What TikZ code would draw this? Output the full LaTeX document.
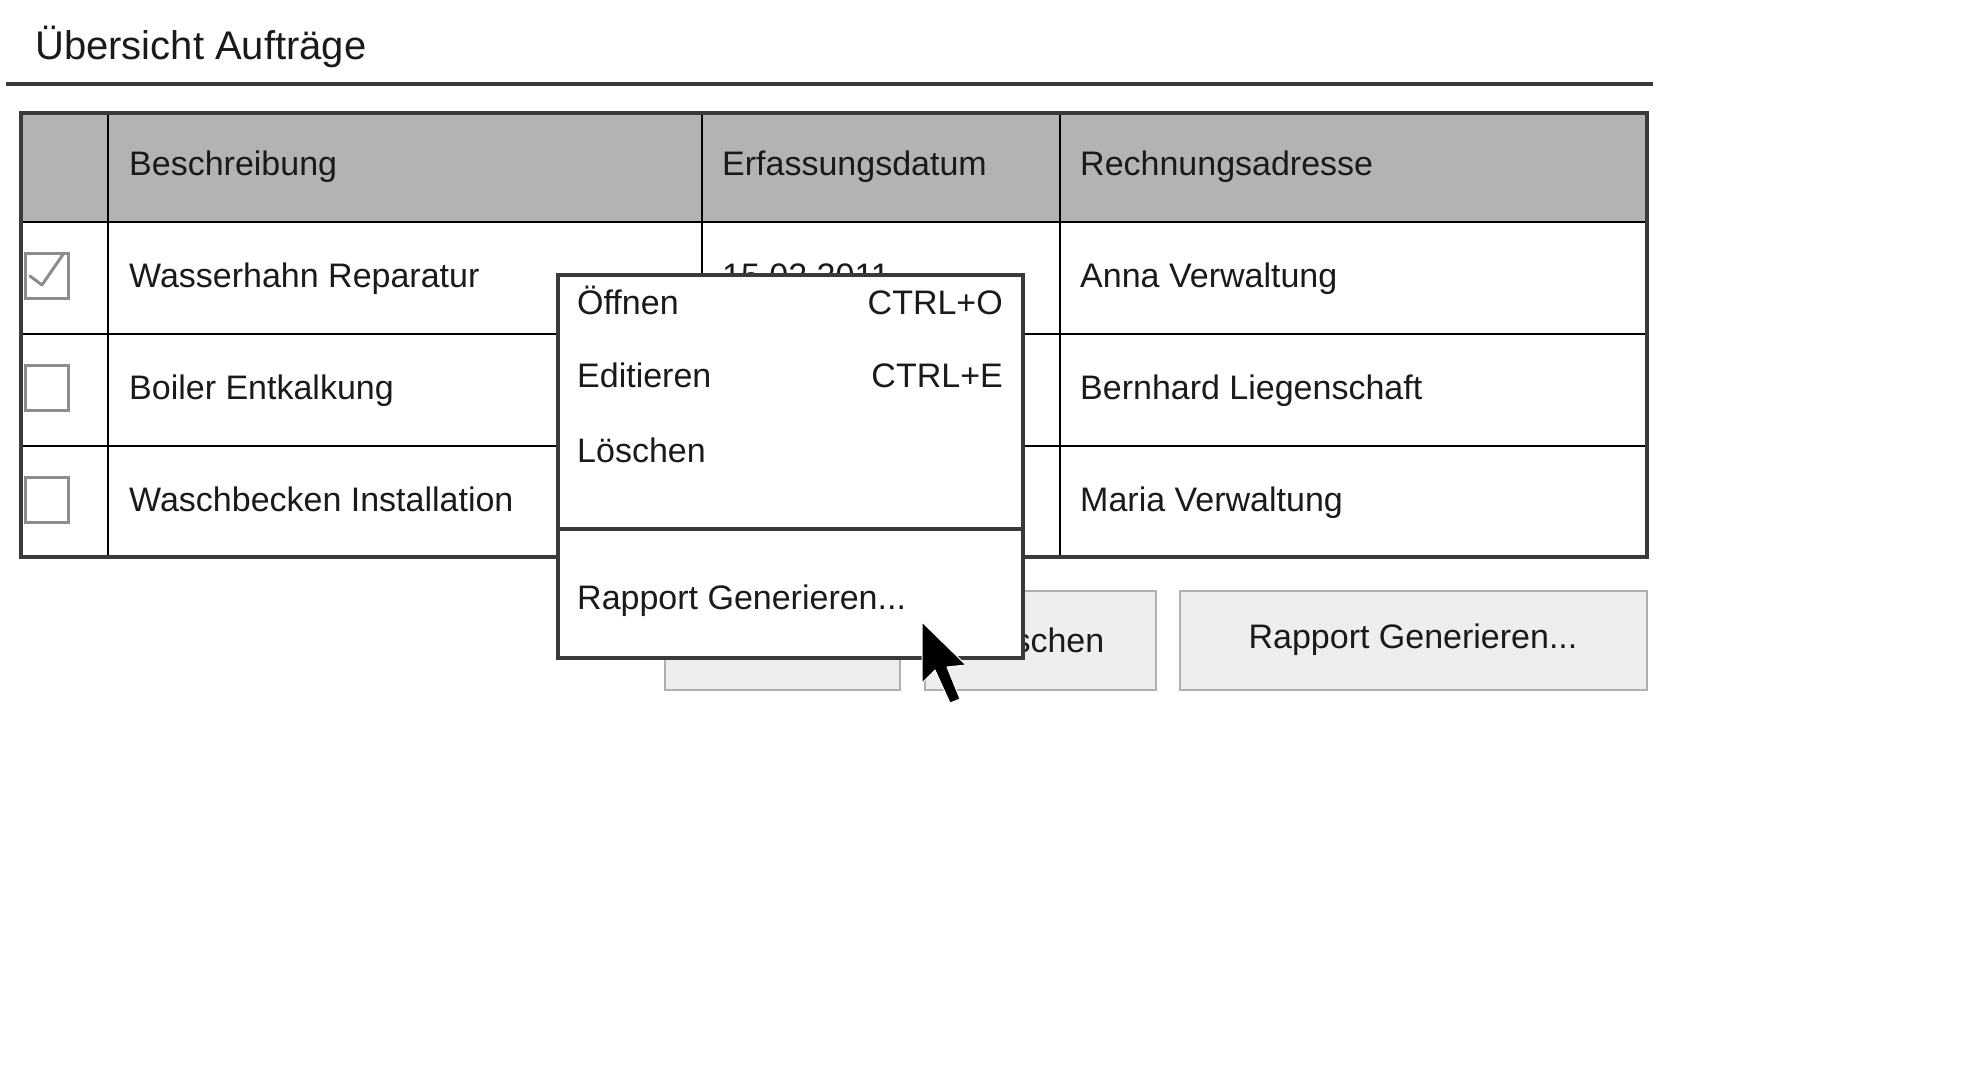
\documentclass[tikz,border=0pt]{standalone}
\usepackage{fontspec}
\setmainfont{Liberation Sans}
\usetikzlibrary{positioning}
\definecolor{frame}{HTML}{3A3A3A}
\definecolor{headgray}{HTML}{B3B3B3}
\definecolor{ink}{HTML}{1A1A1A}
\definecolor{boxgray}{HTML}{8C8C8C}
\definecolor{btnline}{HTML}{B0B0B0}
\definecolor{btnfill}{HTML}{EFEDED}
\begin{document}
\begin{tikzpicture}[x=1pt,y=-1pt]
\tikzstyle{txt}=[anchor=mid west,inner sep=0pt,text=ink,font=\fontsize{34}{40}\selectfont]
\tikzstyle{checkbox}=[draw=boxgray,line width=3pt]
\tikzstyle{button}=[draw=btnline,fill=btnfill,line width=2pt,inner sep=0pt,text=ink,font=\fontsize{34}{40}\selectfont]
\useasboundingbox (0,0) rectangle (1975,1073);
\node [txt,font=\fontsize{40}{48}\selectfont] (title) at (35,57) {Übersicht Aufträge};
\draw [line width=4pt,frame] (6,84) -- (1653,84);
% table
\fill [headgray] (21,113) rectangle (1647,222);
\foreach \y in {222,334,446} \draw [line width=2pt] (21,\y) -- (1647,\y);
\foreach \x in {108,702,1060} \draw [line width=2pt] (\x,113) -- (\x,557);
\draw [line width=4pt,frame] (21,113) rectangle (1647,557);
\node [txt] (hdesc) at (129,173) {Beschreibung};
\node [txt] (hdate) at (722,173) {Erfassungsdatum};
\node [txt] (haddr) at (1080,173) {Rechnungsadresse};
\foreach \y/\desc/\addr [count=\i] in {276/Wasserhahn Reparatur/Anna Verwaltung,
    388/Boiler Entkalkung/Bernhard Liegenschaft,
    500/Waschbecken Installation/Maria Verwaltung} {
  \node [txt] (desc\i) at (129,\y+9) {\desc};
  \node [txt] (addr\i) at (1080,\y+9) {\addr};
  \draw [checkbox] (25,\y-23) rectangle (68,\y+22);
}
\draw [checkbox,line cap=round,line join=round] (30,276) -- (42,285) -- (64,253);
\node [txt] (date1) at (722,285) {15.02.2011};
% buttons
\node [button,minimum width=235pt,minimum height=99pt] (editbtn) at (782,640) {};
\node [button,minimum width=231pt,minimum height=99pt] (delbtn) at (1040,640) {Löschen};
\node [button,minimum width=467pt,minimum height=99pt] (repbtn) at (1413,640) {Rapport Generieren...};
% context menu
\draw [line width=4pt,frame,fill=white] (558,275) rectangle (1023,658);
\draw [line width=4pt,frame] (558,529) -- (1023,529);
\node [txt] (open) at (577,312) {Öffnen};
\node [txt,anchor=mid east] (ctrlo) at (1003,312) {CTRL+O};
\node [txt] (edit) at (577,385) {Editieren};
\node [txt,anchor=mid east] (ctrle) at (1003,385) {CTRL+E};
\node [txt] (del) at (577,460) {Löschen};
\node [txt] (rep) at (577,607) {Rapport Generieren...};
% mouse pointer
\filldraw [fill=black,draw=white,line width=1pt,line join=round]
  (922,622) -- (922,683) -- (935,670) -- (950,703) -- (960,699) -- (947,667) -- (966,665) -- cycle;
\end{tikzpicture}
\end{document}
